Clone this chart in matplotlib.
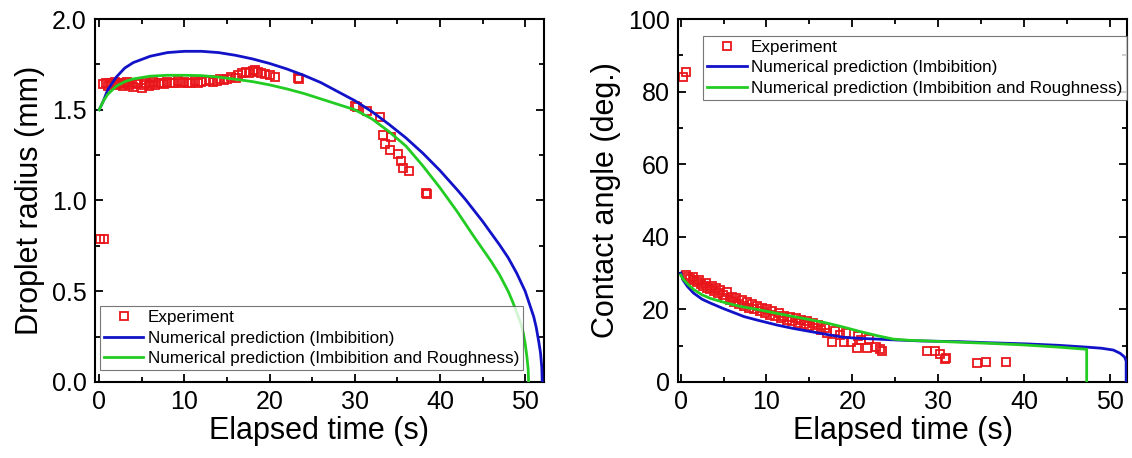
"""Droplet radius and contact angle versus elapsed time: experiment vs. numerical models."""

import matplotlib
matplotlib.use("Agg")  # headless rendering
import matplotlib.pyplot as plt
from matplotlib.ticker import FormatStrFormatter, MultipleLocator

plt.rcParams["font.family"] = ["Liberation Sans", "DejaVu Sans"]

RED = "#e8161b"
BLUE = "#1212c8"
GREEN = "#22cc22"

LABEL_EXP = "Experiment"
LABEL_IMB = "Numerical prediction (Imbibition)"
LABEL_IMB_ROUGH = "Numerical prediction (Imbibition and Roughness)"

# ---------------------------------------------------------------------------
# Droplet radius (left panel)
# ---------------------------------------------------------------------------
radius_exp_t = [
    0.1, 0.6,
    0.5, 0.8, 1.0, 1.3, 1.5, 1.8, 2.0, 2.3, 2.5, 2.8,
    3.0, 3.3, 3.5, 3.8, 4.0, 4.3, 4.6, 5.0, 5.2, 5.5,
    5.8, 6.0, 6.3, 6.6, 7.0, 7.3, 7.6, 8.0, 8.4, 8.8,
    9.2, 9.6, 10.0, 10.4, 10.8, 11.2, 11.6, 12.0, 12.5, 13.0,
    13.4, 13.8, 14.2, 14.6, 15.0, 15.5, 16.0, 16.3, 16.8, 17.2,
    17.6, 18.0, 18.3, 18.6, 19.0, 19.4, 20.0, 20.6, 23.3, 23.5,
    30.0, 30.3, 31.4, 32.9, 33.3, 34.3, 33.5, 34.1, 35.1, 35.4,
    35.7, 36.4, 38.3, 38.5,
]
radius_exp_r = [
    0.79, 0.79,
    1.64, 1.65, 1.63, 1.645, 1.64, 1.655, 1.635, 1.645, 1.65, 1.63,
    1.64, 1.655, 1.635, 1.645, 1.625, 1.64, 1.65, 1.62, 1.635, 1.645,
    1.63, 1.64, 1.655, 1.635, 1.645, 1.65, 1.64, 1.655, 1.645, 1.65,
    1.66, 1.645, 1.655, 1.65, 1.645, 1.66, 1.65, 1.655, 1.66, 1.665,
    1.655, 1.66, 1.67, 1.665, 1.67, 1.68, 1.675, 1.69, 1.70, 1.71,
    1.705, 1.715, 1.72, 1.71, 1.70, 1.695, 1.69, 1.68, 1.675, 1.67,
    1.52, 1.515, 1.495, 1.46, 1.36, 1.35, 1.31, 1.28, 1.255, 1.22,
    1.18, 1.165, 1.04, 1.035,
]

radius_imb_t = [0, 0.5, 1, 2, 3, 4, 6, 8, 10, 12, 14, 16, 18, 20, 22, 24, 26, 28,
                30, 32, 34, 36, 38, 40, 42, 43, 44, 45, 46, 47, 48, 49, 50, 50.5,
                51, 51.3, 51.6, 51.8, 51.95, 52.0]
radius_imb_r = [1.50, 1.55, 1.61, 1.68, 1.73, 1.76, 1.795, 1.815, 1.822, 1.822,
                1.815, 1.80, 1.78, 1.755, 1.725, 1.69, 1.65, 1.60, 1.55, 1.49,
                1.42, 1.345, 1.26, 1.165, 1.06, 1.005, 0.945, 0.885, 0.82, 0.755,
                0.685, 0.60, 0.50, 0.43, 0.36, 0.30, 0.22, 0.16, 0.08, 0.0]

radius_rough_t = [0, 0.5, 1, 2, 3, 4, 6, 8, 10, 12, 14, 16, 18, 20, 22, 24, 26, 28,
                  30, 32, 34, 36, 38, 40, 42, 44, 46, 47, 48, 48.5, 49, 49.5, 49.8,
                  50.0, 50.2, 50.35, 50.4]
radius_rough_r = [1.50, 1.55, 1.585, 1.63, 1.655, 1.67, 1.685, 1.69, 1.69, 1.688,
                  1.68, 1.668, 1.655, 1.637, 1.615, 1.59, 1.56, 1.53, 1.50, 1.45,
                  1.38, 1.30, 1.19, 1.07, 0.94, 0.80, 0.665, 0.59, 0.50, 0.445,
                  0.385, 0.32, 0.265, 0.21, 0.14, 0.07, 0.0]

# ---------------------------------------------------------------------------
# Contact angle (right panel)
# ---------------------------------------------------------------------------
angle_exp_t = [
    0.3, 0.6,
    0.6, 0.9, 1.1, 1.4, 1.6, 1.9, 2.1, 2.4, 2.6, 2.9,
    3.1, 3.4, 3.6, 3.9, 4.1, 4.4, 4.6, 4.9, 5.2, 5.4,
    5.7, 6.0, 6.2, 6.5, 6.8, 7.1, 7.4, 7.7, 8.0, 8.3,
    8.6, 8.9, 9.2, 9.5, 9.8, 10.1, 10.4, 10.7, 11.0, 11.4,
    11.7, 12.0, 12.4, 12.7, 13.0, 13.4, 13.7, 14.0, 14.4, 14.7,
    15.0, 15.4, 15.7, 16.0, 16.4, 16.8, 17.1, 17.6, 18.0, 18.6,
    19.0, 19.3, 19.9, 20.5, 20.7, 21.0, 21.7, 22.0, 22.7, 23.2,
    23.45, 28.7, 29.6, 30.2, 30.8, 30.9, 34.5, 35.6, 37.9,
]
angle_exp_deg = [
    84.0, 85.5,
    29.5, 29.0, 28.5, 29.0, 28.0, 27.5, 28.2, 27.0, 26.5, 27.3,
    26.0, 25.5, 26.4, 25.0, 25.8, 24.5, 25.4, 24.0, 23.0, 24.7,
    22.5, 23.5, 22.0, 23.2, 21.5, 22.6, 21.0, 22.0, 20.5, 21.4,
    20.0, 20.8, 19.5, 20.4, 19.0, 20.0, 18.5, 19.6, 18.2, 19.0,
    17.5, 18.3, 17.0, 18.0, 16.8, 17.5, 16.3, 17.2, 16.0, 16.8,
    15.5, 16.2, 14.8, 15.6, 14.3, 15.0, 13.4, 11.1, 14.0, 12.9,
    11.1, 13.5, 11.1, 9.3, 12.6, 11.5, 9.3, 11.8, 9.7, 9.0,
    8.6, 8.4, 8.4, 7.7, 6.2, 6.6, 5.3, 5.6, 5.6,
]

angle_imb_t = [0, 0.3, 0.8, 1.5, 2.5, 3.5, 5, 7.4, 9, 11.2, 13, 15.1, 17, 19, 21,
               23, 24.8, 28, 32.5, 36, 40.2, 44, 47.3, 49, 50.4, 51.2, 51.7, 51.9, 51.9]
angle_imb_deg = [30.0, 28.0, 26.3, 24.5, 22.8, 21.7, 20.2, 18.0, 17.0, 15.7, 14.8,
                 13.9, 13.1, 12.3, 12.0, 11.8, 11.6, 11.3, 11.1, 10.8, 10.5, 10.1,
                 9.6, 9.3, 8.8, 7.9, 6.9, 5.8, 0.0]

angle_rough_t = [0, 0.3, 0.8, 1.5, 2.5, 3.5, 5.4, 7, 9.3, 11, 13.2, 15, 17.1, 19,
                 20.9, 23, 24.8, 26.5, 28.7, 32, 36.4, 40, 44, 47.3, 47.3]
angle_rough_deg = [29.5, 28.3, 27.0, 25.5, 24.0, 23.0, 21.7, 20.8, 19.8, 19.0, 18.0,
                   17.2, 16.2, 15.1, 13.9, 12.7, 11.8, 11.5, 11.3, 11.0, 10.6, 10.2,
                   9.6, 9.0, 0.0]


def _style_axes(ax):
    ax.tick_params(which="both", direction="in", top=True, right=True,
                   width=1.3, labelsize=18, pad=6)
    ax.tick_params(which="major", length=6)
    ax.tick_params(which="minor", length=3.5)
    for spine in ax.spines.values():
        spine.set_linewidth(1.5)
    ax.xaxis.set_major_locator(MultipleLocator(10))
    ax.xaxis.set_minor_locator(MultipleLocator(5))
    ax.set_xlabel("Elapsed time (s)", fontsize=22, labelpad=1)


def _plot_panel(ax, exp_t, exp_y, imb_t, imb_y, rough_t, rough_y):
    ax.plot(exp_t, exp_y, ls="none", marker="s", ms=6.2, mfc="none",
            mec=RED, mew=1.3, label=LABEL_EXP, zorder=2)
    ax.plot(imb_t, imb_y, color=BLUE, lw=2.0, label=LABEL_IMB, zorder=3)
    ax.plot(rough_t, rough_y, color=GREEN, lw=2.0, label=LABEL_IMB_ROUGH, zorder=4)


def _legend(ax, loc, anchor):
    leg = ax.legend(loc=loc, bbox_to_anchor=anchor, fontsize=12.3, frameon=True,
                    fancybox=False, edgecolor="#555555", borderaxespad=0,
                    handlelength=2.3, handletextpad=0.25, labelspacing=0.3,
                    borderpad=0.25)
    leg.get_frame().set_linewidth(0.8)


fig = plt.figure(figsize=(11.32, 4.58), dpi=100)
ax_r = fig.add_axes([0.0839, 0.166, 0.3966, 0.7925])
ax_a = fig.add_axes([0.599, 0.166, 0.3966, 0.7925])

_plot_panel(ax_r, radius_exp_t, radius_exp_r, radius_imb_t, radius_imb_r,
            radius_rough_t, radius_rough_r)
_style_axes(ax_r)
ax_r.set_xlim(-0.5, 52.2)
ax_r.set_ylim(0, 2.0)
ax_r.yaxis.set_major_locator(MultipleLocator(0.5))
ax_r.yaxis.set_minor_locator(MultipleLocator(0.25))
ax_r.yaxis.set_major_formatter(FormatStrFormatter("%.1f"))
ax_r.set_ylabel("Droplet radius (mm)", fontsize=22, labelpad=5)
_legend(ax_r, "lower left", (0.011, 0.033))

_plot_panel(ax_a, angle_exp_t, angle_exp_deg, angle_imb_t, angle_imb_deg,
            angle_rough_t, angle_rough_deg)
_style_axes(ax_a)
ax_a.set_xlim(-0.3, 52.0)
ax_a.set_ylim(0, 100)
ax_a.yaxis.set_major_locator(MultipleLocator(20))
ax_a.yaxis.set_minor_locator(MultipleLocator(10))
ax_a.set_ylabel("Contact angle (deg.)", fontsize=22, labelpad=5)
_legend(ax_a, "upper left", (0.056, 0.953))

fig.savefig("out.png", dpi=100)
plt.close(fig)
